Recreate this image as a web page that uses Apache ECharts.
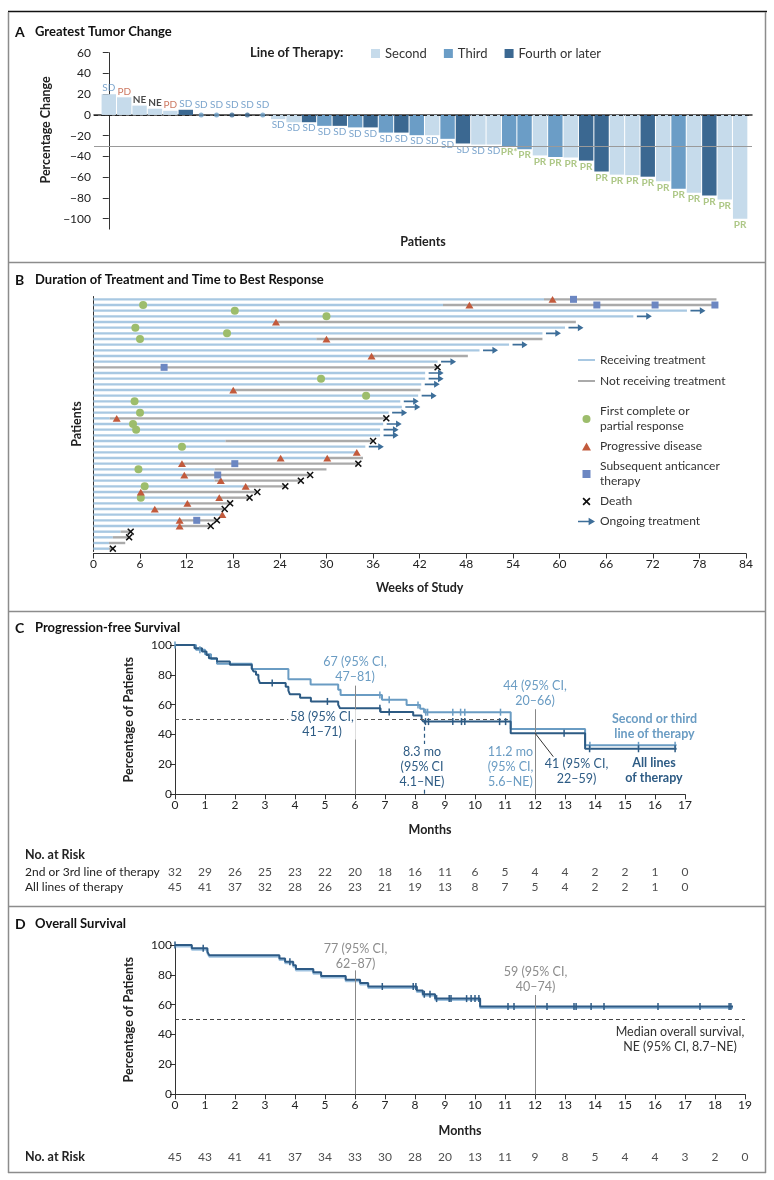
<!DOCTYPE html>
<html><head><meta charset="utf-8">
<script src="https://cdn.jsdelivr.net/npm/echarts@6/dist/echarts.min.js"></script>
<style>html,body{margin:0;padding:0;background:#fff}#c{width:774px;height:1180px}</style>
</head><body><div id="c"></div>
<script>
// ---------- Panel A: greatest tumor change ----------
const tumorChange = [20, 17, 9, 6, 4, 5, 0, 0, 0, 0, 0, -4, -7, -7, -10.5, -10.5, -12, -12, -17, -17, -19.5, -19.5, -23, -27.5, -28.5, -28.5, -30, -33, -39, -40.5, -41, -44, -54.5, -57.5, -58, -59.5, -64, -71, -75, -77.5, -81.5, -100];
const therapyLine = [2,2,2,2,2,4,3,3,4,4,3,2,2,4,3,4,3,4,3,4,3,2,3,4,2,2,3,3,2,3,2,4,4,2,2,4,2,3,2,4,2,2];
const bestResponse = ['SD','PD','NE','NE','PD','SD','SD','SD','SD','SD','SD','SD','SD','SD','SD','SD','SD','SD','SD','SD','SD','SD','SD','SD','SD','SD','PR*','PR','PR','PR','PR','PR','PR','PR','PR','PR','PR','PR','PR','PR','PR','PR'];
const lineNames = ['Second', 'Third', 'Fourth or later'];
const aTicks = [-100, -80, -60, -40, -20, 0, 20, 40, 60];

// ---------- Panel B: swimmer plot (weeks) ----------
const treatEnd = [58, 45, 76.4, 69.5, 23.5, 60.7, 57.8, 28.7, 53.5, 49.7, 35.8, 44.3, 0, 42.7, 42.7, 42.2, 18, 41.8, 39.5, 39.7, 38, 2.1, 37.3, 36.9, 36.9, 17, 35, 33.9, 30, 11.4, 15.6, 11.7, 15.6, 19.6, 6.1, 16.2, 12.1, 7.9, 16.6, 11.1, 11.1, 3.5, 2.5, 2, 2];
const followEnd = [80.2, 80.4, 76.4, 69.5, 62.1, 60.7, 57.8, 57.8, 53.5, 49.7, 48.2, 44.3, 44.3, 42.7, 42.7, 42.2, 42.1, 41.8, 39.5, 39.7, 38, 37.7, 37.3, 36.9, 36.9, 36, 35, 33.9, 34.7, 34.1, 30, 27.9, 26.7, 24.7, 21.1, 20.1, 17.6, 16.9, 16.6, 15.9, 15.1, 4.8, 4.6, 4.1, 2.5];
const ongoingRows = [2,3,5,6,8,9,11,13,14,15,17,18,19,20,22,23,24,26];
const responsePts = [[6.4,1],[18.2,2],[30,3],[5.4,5],[17.2,6],[6,7],[29.3,14],[35.1,17],[5.3,18],[6,20],[5.1,22],[5.5,23],[11.4,26],[5.8,30],[6.6,33],[6.1,35]];
const pdPts = [[59.1,0],[48.4,1],[23.5,4],[30,7],[35.8,10],[18,16],[3,21],[33.9,27],[24.1,28],[30.1,28],[11.4,29],[11.7,31],[16.4,32],[19.6,33],[6.1,34],[16.2,35],[12.1,36],[7.9,37],[16.6,38],[11.1,39],[11.1,40]];
const subseqPts = [[61.8,0],[64.8,1],[72.3,1],[80,1],[9.1,12],[18.2,29],[16,31],[13.3,39]];
const deathPts = [[44.3,12],[37.7,21],[36,25],[34.1,29],[27.9,31],[26.7,32],[24.7,33],[21.1,34],[20.1,35],[17.6,36],[16.9,37],[15.9,39],[15.1,40],[4.8,41],[4.6,42],[2.5,44]];

// ---------- Panel C: progression-free survival ----------
const pfsAllT = [0, 0.65, 0.9, 1.05, 1.13, 1.4, 1.83, 2.56, 2.62, 2.7, 2.78, 2.83, 3.69, 3.78, 3.83, 4.17, 4.53, 5.44, 5.5, 6.85, 7.94, 8.22, 8.28, 11.19, 13.67, 16.72];
const pfsAllS = [100, 97.8, 95.6, 93.3, 91.1, 88.9, 86.7, 84.4, 82.2, 80.0, 77.3, 74.5, 72.0, 69.4, 67.0, 64.6, 62.2, 60.0, 57.6, 55.2, 52.7, 50.2, 48.7, 40.9, 30.5, 30.5];
const pfs23T = [0, 0.7, 1.0, 1.2, 1.4, 2.56, 3.78, 4.52, 5.44, 5.52, 6.9, 7.72, 8.17, 8.3, 11.19, 13.67, 16.72];
const pfs23S = [100, 96.9, 93.8, 90.6, 87.5, 84.0, 77.0, 73.5, 70.0, 66.5, 63.3, 59.8, 57.3, 55.0, 43.7, 32.8, 32.8];
const censorAllC = [3.24, 5.08, 6.83, 7.14, 8.35, 8.45, 9.26, 9.55, 9.66, 10.82, 11.02, 12.97, 13.82, 15.45, 16.67];
const censor23C = [0, 0.83, 6.83, 7.14, 8.1, 8.36, 8.42, 9.26, 9.52, 9.66, 10.85, 13.83, 15.45, 16.67];
const riskMonthsC = [0,1,2,3,4,5,6,7,8,9,10,11,12,13,14,15,16,17];
const risk23 = [32,29,26,25,23,22,20,18,16,11,6,5,4,4,2,2,1,0];
const riskAllC = [45,41,37,32,28,26,23,21,19,13,8,7,5,4,2,2,1,0];
const riskLabelsC = ['2nd or 3rd line of therapy', 'All lines of therapy'];

// ---------- Panel D: overall survival ----------
const osT = [0, 0.56, 1.08, 1.14, 3.48, 3.67, 3.94, 4.03, 4.61, 4.87, 5.69, 6.17, 6.44, 8.06, 8.26, 8.67, 10.17, 18.6];
const osS = [100, 97.8, 95.5, 93.2, 91.0, 88.7, 86.4, 84.0, 81.7, 79.3, 76.8, 74.6, 72.2, 69.6, 67.0, 64.1, 58.8, 58.8];
const osCensor = [0, 0.94, 3.83, 6.91, 7.94, 8.03, 8.31, 8.5, 8.72, 9.14, 9.2, 9.72, 9.87, 10.0, 10.13, 11.1, 11.3, 12.4, 13.3, 13.37, 13.87, 14.3, 16.1, 17.5, 18.47, 18.53];
const riskMonthsD = [0,1,2,3,4,5,6,7,8,9,10,11,12,13,14,15,16,17,18,19];
const riskOS = [45,43,41,41,37,34,33,30,28,20,13,11,9,8,5,4,4,3,2,0];

// ---------- styling ----------
const FONT = 'Lato, "Noto Sans", sans-serif';
const lineColors = {2: '#c6dbeb', 3: '#6b9dc6', 4: '#3b6891'};
const respColors = {SD: '#5b8fc0', PD: '#c0563a', NE: '#1a1a1a', PR: '#98b968', 'PR*': '#98b968'};
const lightC = '#6a9cc3', darkC = '#2d5b84';
const arrowPath = 'path://M0,2.7L10,2.7L10,0L16,3.5L10,7L10,4.3L0,4.3Z';
const xPath = 'path://M0,1.5L1.5,0L5,3.5L8.5,0L10,1.5L6.5,5L10,8.5L8.5,10L5,6.5L1.5,10L0,8.5L3.5,5Z';
const triPath = 'path://M5,0L10,9L0,9Z';
const sqPath = 'path://M0,0L10,0L10,10L0,10Z';
const minus = v => String(v).replace('-', '\u2212');
const survAt = (T, S, t) => { let v = S[0]; for (let i = 0; i < T.length; i++) { if (T[i] <= t + 1e-9) v = S[i]; else break; } return v; };

const axisName = {fontWeight: 'bold', fontSize: 12.5, color: '#222', fontFamily: FONT};
const tickLab = {fontSize: 12, color: '#222', fontFamily: FONT};
const axLine = {show: true, lineStyle: {color: '#333', width: 1}};

const chart = echarts.init(document.getElementById('c'), null, {renderer: 'canvas'});

// Panel A series
const barSeries = [2, 3, 4].map((k, j) => ({
  type: 'bar', name: lineNames[j], xAxisIndex: 0, yAxisIndex: 0, z: 2,
  barWidth: 14.4, barGap: '-100%',
  itemStyle: {color: lineColors[k]},
  data: tumorChange.map((v, i) => [i, v]).filter((d, i) => therapyLine[i] === k && tumorChange[i] !== 0)
}));
const labelData = tumorChange.map((v, i) => {
  const r = bestResponse[i];
  return {
    value: [i, v],
    label: {
      show: true, formatter: r, color: respColors[r],
      position: v < 0 ? 'bottom' : 'top',
      distance: v === 0 ? 5 : 1,
      fontSize: 10, fontWeight: (r === 'NE' || r.startsWith('PR')) ? 'bold' : 'normal', fontFamily: FONT
    }
  };
});

const option = {
  animation: false,
  backgroundColor: '#fff',
  textStyle: {fontFamily: FONT},
  grid: [
    {left: 94, top: 52.7, width: 658, height: 176.4},
    {left: 93.4, top: 296.5, width: 652.6, height: 255},
    {left: 175, top: 645, width: 510, height: 149.3},
    {left: 175, top: 864.5, width: 510, height: 30},
    {left: 175, top: 945, width: 570, height: 149.3},
    {left: 175, top: 1149.5, width: 570, height: 15}
  ],
  legend: [
    {left: 366, top: 42, itemWidth: 9, itemHeight: 9, itemGap: 17, icon: 'rect', selectedMode: false,
     textStyle: {fontSize: 13, color: '#333', fontFamily: FONT}, data: lineNames},
    {orient: 'vertical', left: 573, top: 347.5, itemWidth: 17, itemHeight: 2, itemGap: 6, icon: 'rect', selectedMode: false,
     textStyle: {fontSize: 12, lineHeight: 15, color: '#333', fontFamily: FONT},
     data: ['Receiving treatment', 'Not receiving treatment']},
    {orient: 'vertical', left: 573, top: 399, itemWidth: 17, itemHeight: 8, itemGap: 5, selectedMode: false,
     textStyle: {fontSize: 12, lineHeight: 15, color: '#333', fontFamily: FONT},
     formatter: n => n === 'First complete or partial response' ? 'First complete or\npartial response'
                   : n === 'Subsequent anticancer therapy' ? 'Subsequent anticancer\ntherapy' : n,
     data: ['First complete or partial response', 'Progressive disease', 'Subsequent anticancer therapy', 'Death', 'Ongoing treatment']}
  ],
  xAxis: [
    {gridIndex: 0, type: 'value', min: -0.96, max: 41.77, axisLine: {show: true, lineStyle: {color: '#333', width: 1.5}},
     axisTick: {show: false}, axisLabel: {show: false}, splitLine: {show: false},
     name: 'Patients', nameLocation: 'middle', nameGap: 6, nameTextStyle: axisName},
    {gridIndex: 1, type: 'value', min: 0, max: 84, interval: 6, offset: 2, axisLine: axLine,
     axisTick: {show: true, length: 5, lineStyle: {color: '#333'}}, axisLabel: Object.assign({margin: 5}, tickLab),
     splitLine: {show: false}, name: 'Weeks of Study', nameLocation: 'middle', nameGap: 28, nameTextStyle: axisName},
    {gridIndex: 2, type: 'value', min: 0, max: 17, interval: 1, axisLine: axLine,
     axisTick: {show: true, length: 5, lineStyle: {color: '#333'}}, axisLabel: Object.assign({margin: 5}, tickLab),
     splitLine: {show: false}, name: 'Months', nameLocation: 'middle', nameGap: 29, nameTextStyle: axisName},
    {gridIndex: 3, type: 'value', min: 0, max: 17, show: false},
    {gridIndex: 4, type: 'value', min: 0, max: 19, interval: 1, axisLine: axLine,
     axisTick: {show: true, length: 5, lineStyle: {color: '#333'}}, axisLabel: Object.assign({margin: 5}, tickLab),
     splitLine: {show: false}, name: 'Months', nameLocation: 'middle', nameGap: 30, nameTextStyle: axisName},
    {gridIndex: 5, type: 'value', min: 0, max: 19, show: false}
  ],
  yAxis: [
    {gridIndex: 0, type: 'value', min: -110, max: 60, axisLine: axLine,
     axisTick: {show: true, length: 6, customValues: aTicks, lineStyle: {color: '#333'}},
     axisLabel: Object.assign({margin: 3, customValues: aTicks, formatter: minus}, tickLab),
     splitLine: {show: false}, name: 'Percentage Change', nameLocation: 'middle', nameGap: 40,
     nameTextStyle: Object.assign({padding: [0, 0, 0, 22]}, axisName)},
    {gridIndex: 1, type: 'category', inverse: true, data: treatEnd.map((v, i) => 'P' + (i + 1)),
     axisLine: axLine, axisTick: {show: false}, axisLabel: {show: false},
     name: 'Patients', nameLocation: 'middle', nameGap: 10, nameTextStyle: axisName},
    {gridIndex: 2, type: 'value', min: 0, max: 100, interval: 20, axisLine: axLine,
     axisTick: {show: true, length: 5, lineStyle: {color: '#333'}}, axisLabel: Object.assign({margin: 3}, tickLab),
     splitLine: {show: false}, name: 'Percentage of Patients', nameLocation: 'middle', nameGap: 40, nameTextStyle: axisName},
    {gridIndex: 3, type: 'category', inverse: true, data: riskLabelsC, axisLine: {show: false}, axisTick: {show: false},
     axisLabel: Object.assign({align: 'left', margin: 150, interval: 0}, tickLab)},
    {gridIndex: 4, type: 'value', min: 0, max: 100, interval: 20, axisLine: axLine,
     axisTick: {show: true, length: 5, lineStyle: {color: '#333'}}, axisLabel: Object.assign({margin: 3}, tickLab),
     splitLine: {show: false}, name: 'Percentage of Patients', nameLocation: 'middle', nameGap: 40, nameTextStyle: axisName},
    {gridIndex: 5, type: 'category', data: ['All'], show: false}
  ],
  series: [
    // ----- A -----
    {type: 'scatter', name: 'refA', xAxisIndex: 0, yAxisIndex: 0, z: 1, data: [], silent: true,
     markLine: {silent: true, symbol: 'none', label: {show: false},
       data: [{yAxis: -30, lineStyle: {type: 'solid', color: '#9a9a9a', width: 1.2}}]}},
    ...barSeries,
    {type: 'scatter', name: 'labelsA', xAxisIndex: 0, yAxisIndex: 0, z: 4, symbolSize: 0,
     itemStyle: {color: 'transparent'}, data: labelData,
     markLine: {silent: true, symbol: 'none', label: {show: false},
       data: [{yAxis: 0, lineStyle: {type: [4, 3], color: '#222', width: 1.2}}]}},
    {type: 'scatter', name: 'zeroA', xAxisIndex: 0, yAxisIndex: 0, z: 5, symbolSize: 5,
     data: tumorChange.map((v, i) => ({value: [i, v], itemStyle: {color: lineColors[therapyLine[i]]}})).filter(d => d.value[1] === 0)},
    // ----- B -----
    {type: 'bar', name: 'Receiving treatment', xAxisIndex: 1, yAxisIndex: 1, stack: 'sw', barWidth: 2.4,
     itemStyle: {color: '#a8c8e2'}, data: treatEnd},
    {type: 'bar', name: 'Not receiving treatment', xAxisIndex: 1, yAxisIndex: 1, stack: 'sw', barWidth: 2.4,
     itemStyle: {color: '#aaaaaa'}, data: followEnd.map((f, i) => f - treatEnd[i])},
    {type: 'scatter', name: 'First complete or partial response', xAxisIndex: 1, yAxisIndex: 1, symbol: 'circle', symbolSize: 8,
     itemStyle: {color: '#9dbd6c', opacity: 1}, data: responsePts},
    {type: 'scatter', name: 'Progressive disease', xAxisIndex: 1, yAxisIndex: 1, symbol: triPath, symbolSize: [8, 7.5], symbolKeepAspect: true,
     itemStyle: {color: '#c25a3c', opacity: 1}, data: pdPts},
    {type: 'scatter', name: 'Subsequent anticancer therapy', xAxisIndex: 1, yAxisIndex: 1, symbol: sqPath, symbolSize: 7, symbolKeepAspect: true,
     itemStyle: {color: '#6c87c2', opacity: 1}, data: subseqPts},
    {type: 'scatter', name: 'Death', xAxisIndex: 1, yAxisIndex: 1, symbol: xPath, symbolSize: 7, symbolKeepAspect: true,
     itemStyle: {color: '#111', opacity: 1}, data: deathPts},
    {type: 'scatter', name: 'Ongoing treatment', xAxisIndex: 1, yAxisIndex: 1, symbol: arrowPath, symbolSize: [15, 7],
     symbolOffset: [11, 0], itemStyle: {color: '#3d6e99', opacity: 1}, data: ongoingRows.map(r => [followEnd[r], r])},
    // ----- C -----
    {type: 'line', name: 'Second or third line of therapy', xAxisIndex: 2, yAxisIndex: 2, step: 'end', symbol: 'none',
     lineStyle: {color: lightC, width: 2}, data: pfs23T.map((t, i) => [t, pfs23S[i]]), z: 3},
    {type: 'line', name: 'All lines of therapy', xAxisIndex: 2, yAxisIndex: 2, step: 'end', symbol: 'none',
     lineStyle: {color: darkC, width: 2}, data: pfsAllT.map((t, i) => [t, pfsAllS[i]]), z: 4},
    {type: 'scatter', name: 'cens23', xAxisIndex: 2, yAxisIndex: 2, symbol: 'rect', symbolSize: [1.5, 7], z: 5,
     itemStyle: {color: lightC, opacity: 1}, data: censor23C.map(t => [t, survAt(pfs23T, pfs23S, t)])},
    {type: 'scatter', name: 'censAll', xAxisIndex: 2, yAxisIndex: 2, symbol: 'rect', symbolSize: [1.5, 7], z: 5,
     itemStyle: {color: darkC, opacity: 1}, data: censorAllC.map(t => [t, survAt(pfsAllT, pfsAllS, t)])},
    {type: 'scatter', name: 'refC', xAxisIndex: 2, yAxisIndex: 2, data: [], z: 2, silent: true,
     markLine: {silent: true, symbol: 'none', label: {show: false}, data: [
       [{coord: [6, 0], lineStyle: {color: '#888', width: 1, type: 'solid'}}, {coord: [6, 72.8]}],
       [{coord: [12, 0], lineStyle: {color: '#888', width: 1, type: 'solid'}}, {coord: [12, 57]}],
       [{coord: [0, 50], lineStyle: {color: '#555', width: 1.2, type: [4, 3]}}, {coord: [11.2, 50]}],
       [{coord: [8.3, 50], lineStyle: {color: darkC, width: 1.2, type: [4, 3]}}, {coord: [8.3, 0]}],
       [{coord: [12, 41], lineStyle: {color: '#333', width: 1, type: 'solid'}}, {coord: [12.61, 25.2]}]
     ]}},
    // C risk table
    {type: 'scatter', name: 'risk23', xAxisIndex: 3, yAxisIndex: 3, symbolSize: 0, itemStyle: {color: 'transparent'},
     label: {show: true, position: 'inside', fontSize: 12, color: '#222', fontFamily: FONT, formatter: p => p.value[2]},
     data: riskMonthsC.map((m, i) => [m, 0, risk23[i]])},
    {type: 'scatter', name: 'riskAllC', xAxisIndex: 3, yAxisIndex: 3, symbolSize: 0, itemStyle: {color: 'transparent'},
     label: {show: true, position: 'inside', fontSize: 12, color: '#222', fontFamily: FONT, formatter: p => p.value[2]},
     data: riskMonthsC.map((m, i) => [m, 1, riskAllC[i]])},
    // ----- D -----
    {type: 'line', name: 'OS', xAxisIndex: 4, yAxisIndex: 4, step: 'end', symbol: 'none', z: 4,
     lineStyle: {color: '#2e5b86', width: 2, shadowColor: '#9fc2df', shadowOffsetY: 1.5, shadowBlur: 0},
     data: osT.map((t, i) => [t, osS[i]])},
    {type: 'scatter', name: 'censOS', xAxisIndex: 4, yAxisIndex: 4, symbol: 'rect', symbolSize: [1.5, 7], z: 5,
     itemStyle: {color: '#2e5b86', opacity: 1}, data: osCensor.map(t => [t, survAt(osT, osS, t)])},
    {type: 'scatter', name: 'refD', xAxisIndex: 4, yAxisIndex: 4, data: [], z: 2, silent: true,
     markLine: {silent: true, symbol: 'none', label: {show: false}, data: [
       [{coord: [6, 0], lineStyle: {color: '#888', width: 1, type: 'solid'}}, {coord: [6, 83]}],
       [{coord: [12, 0], lineStyle: {color: '#888', width: 1, type: 'solid'}}, {coord: [12, 66.5]}],
       [{coord: [0, 50], lineStyle: {color: '#444', width: 1.2, type: [4, 3]}}, {coord: [19, 50]}]
     ]}},
    {type: 'scatter', name: 'riskOS', xAxisIndex: 5, yAxisIndex: 5, symbolSize: 0, itemStyle: {color: 'transparent'},
     label: {show: true, position: 'inside', fontSize: 12, color: '#222', fontFamily: FONT, formatter: p => p.value[2]},
     data: riskMonthsD.map((m, i) => [m, 0, riskOS[i]])}
  ],
  graphic: []
};

// ---------- annotation text & frame ----------
const G = [];
const txt = (x, y, text, o) => G.push({type: 'text', x: x, y: y, z: 100, silent: true,
  style: Object.assign({text: text, fontFamily: FONT, fontSize: 12.5, fill: '#222', align: 'left', verticalAlign: 'middle', lineHeight: 15}, o || {})});
const ln = (x1, y1, x2, y2, c, w) => G.push({type: 'line', z: 100, silent: true, shape: {x1: x1, y1: y1, x2: x2, y2: y2}, style: {stroke: c, lineWidth: w}});

ln(8, 11.5, 767, 11.5, '#111', 1.5);
ln(8.5, 12, 8.5, 1173, '#8c8c8c', 1.5);
ln(765.5, 12, 765.5, 1173, '#8c8c8c', 1.5);
ln(8, 1172.5, 766, 1172.5, '#8c8c8c', 1.5);
ln(8, 262.5, 766, 262.5, '#8c8c8c', 1.5);
ln(8, 611.5, 766, 611.5, '#8c8c8c', 1.5);
ln(8, 906.5, 766, 906.5, '#8c8c8c', 1.5);

const ttl = {fontWeight: 'bold', fontSize: 13, fill: '#111'};
txt(15, 32, 'A', Object.assign({}, ttl, {fontSize: 14}));
txt(35, 32, 'Greatest Tumor Change', ttl);
txt(15, 280, 'B', Object.assign({}, ttl, {fontSize: 14}));
txt(35, 280, 'Duration of Treatment and Time to Best Response', ttl);
txt(15, 628, 'C', Object.assign({}, ttl, {fontSize: 14}));
txt(35, 628, 'Progression-free Survival', ttl);
txt(15, 924, 'D', Object.assign({}, ttl, {fontSize: 14}));
txt(35, 924, 'Overall Survival', ttl);
txt(250, 53, 'Line of Therapy:', {fontWeight: 'bold', fontSize: 13, fill: '#222'});

// C annotations
const ca = {align: 'center'};
txt(355, 669, '67 (95% CI,\n47\u201381)', Object.assign({fill: lightC}, ca));
txt(322, 724.5, '58 (95% CI,\n41\u201371)', Object.assign({fill: darkC, backgroundColor: '#fff', padding: [0, 2]}, ca));
txt(422, 766.5, '8.3 mo\n(95% CI\n4.1\u2013NE)', Object.assign({fill: darkC, backgroundColor: '#fff', padding: [0, 1]}, ca));
txt(510.5, 766.5, '11.2 mo\n(95% CI,\n5.6\u2013NE)', Object.assign({fill: lightC, backgroundColor: '#fff'}, ca));
txt(535, 693, '44 (95% CI,\n20\u201366)', Object.assign({fill: lightC}, ca));
txt(576.5, 771, '41 (95% CI,\n22\u201359)', Object.assign({fill: darkC}, ca));
txt(654.5, 726.5, 'Second or third\nline of therapy', Object.assign({fill: lightC, fontWeight: 'bold'}, ca));
txt(654, 770, 'All lines\nof therapy', Object.assign({fill: darkC, fontWeight: 'bold'}, ca));
txt(25, 855, 'No. at Risk', {fontWeight: 'bold', fontSize: 12.5});

// D annotations
txt(355.5, 956, '77 (95% CI,\n62\u201387)', Object.assign({fill: '#8c8c8c'}, ca));
txt(535.5, 979.5, '59 (95% CI,\n40\u201374)', Object.assign({fill: '#8c8c8c'}, ca));
txt(680, 1039.5, 'Median overall survival,\nNE (95% CI, 8.7\u2013NE)', Object.assign({fill: '#333'}, ca));
txt(25, 1157, 'No. at Risk', {fontWeight: 'bold', fontSize: 12.5});

option.graphic = G;
chart.setOption(option);
</script>
</body></html>
